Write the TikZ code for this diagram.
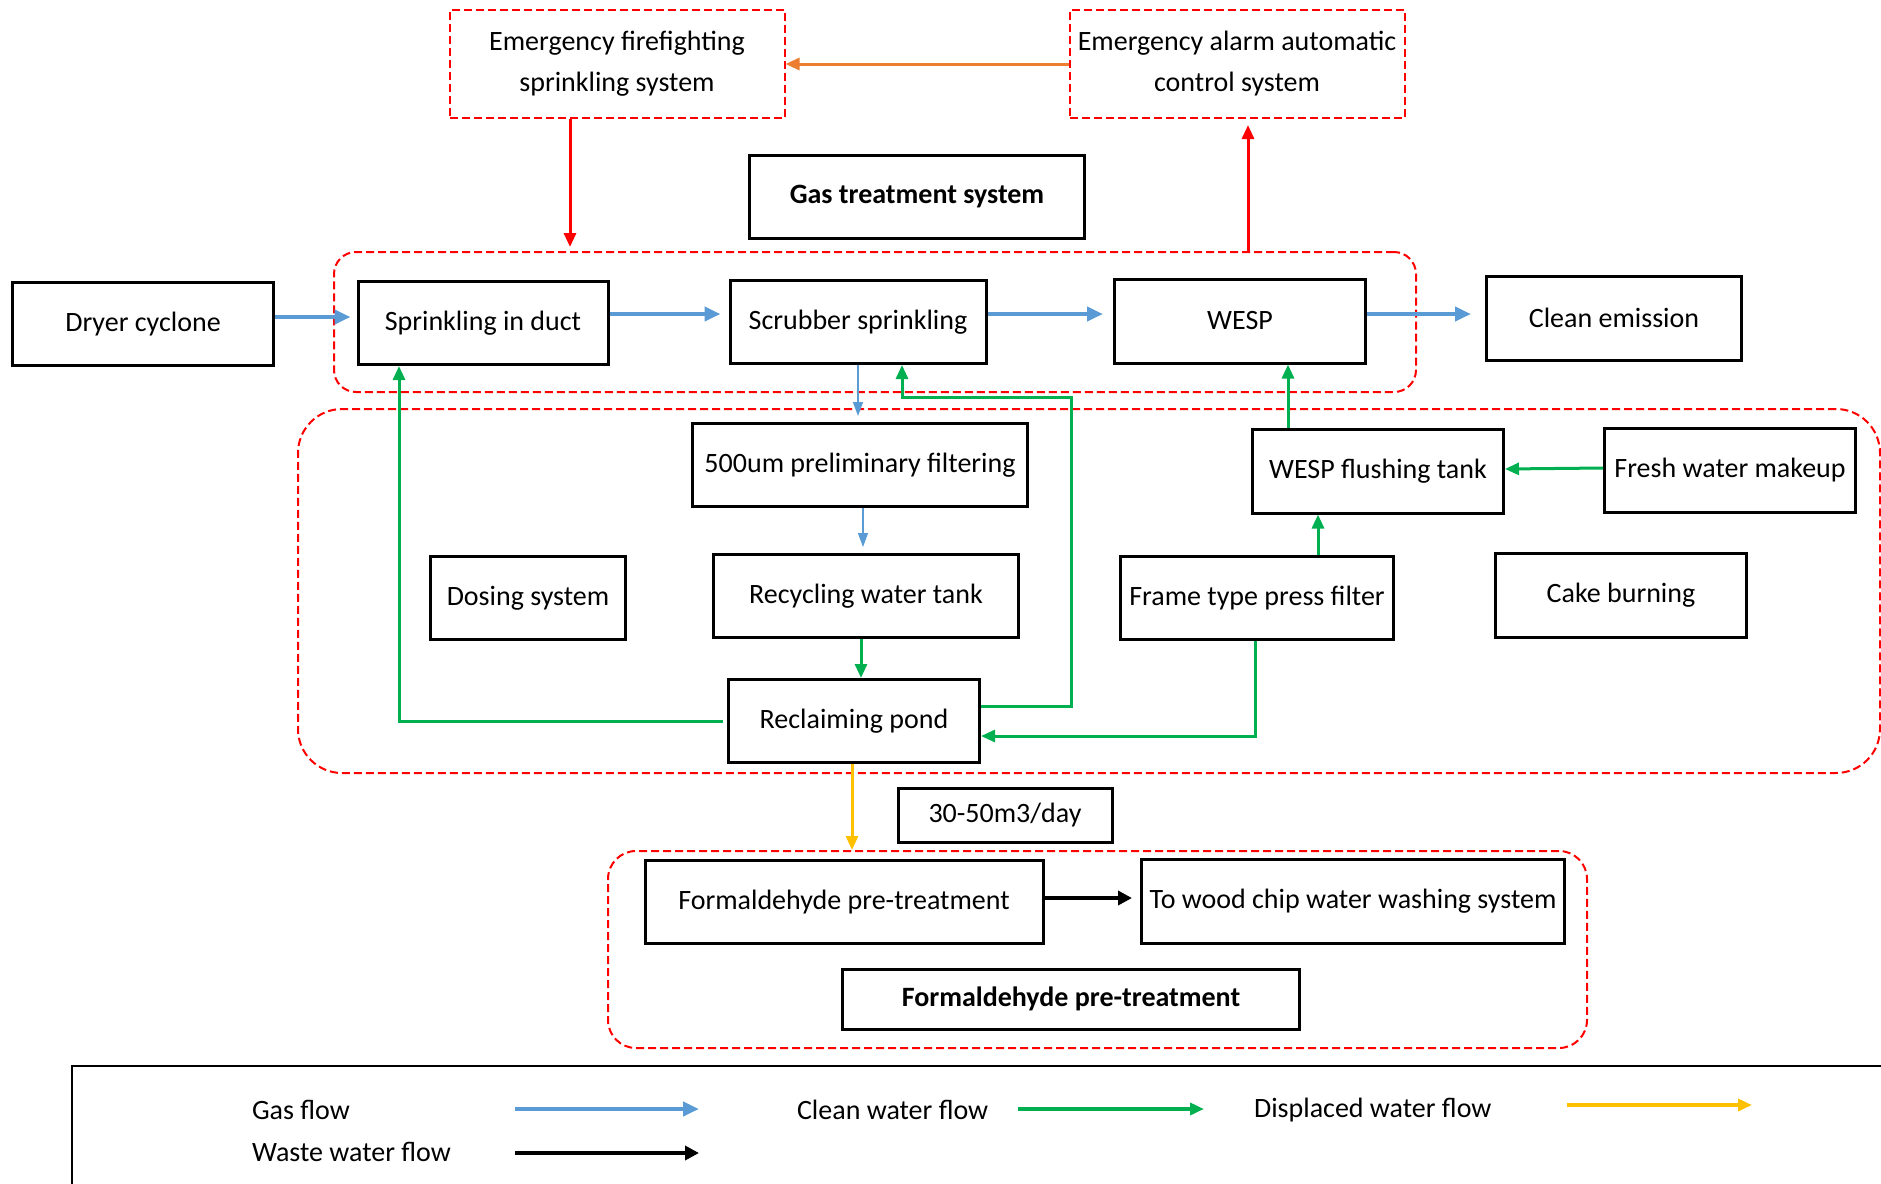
\documentclass[tikz,border=0pt]{standalone}
\usepackage{fontspec}
\setmainfont{Carlito}
\usetikzlibrary{arrows.meta}

\definecolor{gasblue}{RGB}{91,155,213}
\definecolor{cleangreen}{RGB}{0,176,80}
\definecolor{dispyellow}{RGB}{255,192,0}
\definecolor{alarmorange}{RGB}{237,125,49}

\tikzset{
  boxsize/.style 2 args={minimum width=#1*0.5pt,minimum height=#2*0.5pt},
  box/.style={draw,line width=1.5pt,inner sep=1pt,align=center},
  redbox/.style={draw=red,line width=1pt,dash pattern=on 4pt off 2pt,inner sep=1pt,align=center},
  grp/.style={draw=red,line width=1pt,dash pattern=on 4pt off 2pt,inner sep=0pt},
  gas/.style={gasblue,line width=2pt,-{Triangle[length=8pt,width=7pt]}},
  thingas/.style={gasblue,line width=0.7pt,-{Triangle[length=7pt,width=5pt]}},
  clean/.style={cleangreen,line width=1.5pt,-{Triangle[length=7pt,width=6pt]}},
  alarm/.style={red,line width=1.5pt,-{Triangle[length=7pt,width=6pt]}},
  waste/.style={black,line width=2pt,-{Triangle[length=7pt,width=7pt]}},
  disp/.style={dispyellow,line width=1.5pt,-{Triangle[length=7pt,width=6pt]}}
}

\begin{document}
\begin{tikzpicture}[x=0.5pt,y=-0.5pt,font=\fontsize{14}{20.5}\selectfont]
\useasboundingbox (0,0) rectangle (1881,1184);

\begin{scope}
\clip (0,0) rectangle (1881,1184);

% dashed groups
\node[grp,rounded corners=11pt,boxsize={1082}{140}] (gasgrp) at (875,322) {};
\node[grp,rounded corners=22pt,boxsize={1582}{364}] (watergrp) at (1089,591) {};
\node[grp,rounded corners=14pt,boxsize={979}{197}] (formgrp) at (1097.5,949.5) {};

\node[redbox,boxsize={335}{108}] (fire) at (617,64) {Emergency firefighting\\sprinkling system};
\node[redbox,boxsize={335}{108}] (alarmsys) at (1237,64) {Emergency alarm automatic\\control system};
\node[box,boxsize={335}{83}] (gastitle) at (917,197) {\bfseries Gas treatment system};

\node[box,boxsize={261}{83}] (dryer) at (143,324) {Dryer cyclone};
\node[box,boxsize={250}{83}] (duct) at (483,323) {Sprinkling in duct};
\node[box,boxsize={256}{83}] (scrub) at (858,322) {Scrubber sprinkling};
\node[box,boxsize={251}{84}] (wesp) at (1240,321) {WESP};
\node[box,boxsize={255}{84}] (clean) at (1614,318) {Clean emission};

\node[box,boxsize={335}{83}] (filt) at (860,465) {500um preliminary filtering};
\node[box,boxsize={251}{84}] (flush) at (1378,471) {WESP flushing tank};
\node[box,boxsize={251}{84}] (fresh) at (1730,470) {Fresh water makeup};
\node[box,boxsize={195}{83}] (dosing) at (528,598) {Dosing system};
\node[box,boxsize={305}{83}] (recyc) at (866,596) {Recycling water tank};
\node[box,boxsize={273}{83}] (press) at (1257,598) {Frame type press filter};
\node[box,boxsize={251}{84}] (cake) at (1621,595) {Cake burning};
\node[box,boxsize={251}{83}] (pond) at (854,721) {Reclaiming pond};

\node[box,boxsize={214}{54}] (rate) at (1005,815) {30-50m3/day};
\node[box,boxsize={398}{83}] (form) at (844,902) {Formaldehyde pre-treatment};
\node[box,boxsize={423}{84}] (wood) at (1353,901) {To wood chip water washing system};
\node[box,boxsize={457}{60}] (formtitle) at (1071,999) {\bfseries Formaldehyde pre-treatment};

% gas line
\draw[gas,shorten >=3pt] ([shift={(0,-7)}]dryer.east) -- ([shift={(0,-6)}]duct.west);
\draw[gas,shorten >=4pt] ([shift={(0,-9)}]duct.east) -- ([shift={(0,-8)}]scrub.west);
\draw[gas,shorten >=5pt] ([shift={(0,-8)}]scrub.east) -- ([shift={(0,-7)}]wesp.west);
\draw[gas,shorten >=7pt] ([shift={(0,-7)}]wesp.east) -- ([shift={(0,-4)}]clean.west);
\draw[thingas,shorten >=3pt] (scrub.south) -- (scrub.south |- filt.north);
\draw[thingas,shorten >=3pt] ([shift={(3,0)}]filt.south) -- ([shift={(3,0)}]filt.south |- recyc.north);

% water
\coordinate (loopr) at (1071,397);
\draw[clean] ([shift={(-5,0)}]recyc.south) -- ([shift={(-5,0)}]recyc.south |- pond.north);
\draw[clean] ([shift={(-4,0)}]pond.west) -| ([shift={(-84,0)}]duct.south);
\draw[clean] ([shift={(0,-15)}]pond.east) -| (loopr) -| ([shift={(44,0)}]scrub.south);
\draw[clean] ([shift={(-2,0)}]press.south) |- ([shift={(0,15)}]pond.east);
\draw[clean] ([shift={(61,0)}]press.north) -- ([shift={(61,0)}]press.north |- flush.south);
\draw[clean] ([shift={(0,-2)}]fresh.west) -- ([shift={(0,-2)}]flush.east);
\draw[clean] ([shift={(-90,0)}]flush.north) -- ([shift={(-90,0)}]flush.north |- wesp.south);

% alarm
\draw[alarm,shorten >=2pt] ([shift={(-47,0)}]fire.south) -- ([shift={(-47,0)}]fire.south |- gasgrp.north);
\draw[alarm,shorten >=3pt] ([shift={(11,0)}]alarmsys.south |- gasgrp.north) -- ([shift={(11,0)}]alarmsys.south);
\draw[alarmorange,line width=1.5pt,-{Triangle[length=7pt,width=6pt]}] (alarmsys.west) -- (fire.east);

\draw[disp] ([shift={(-2,0)}]pond.south) -- ([shift={(-2,0)}]pond.south |- formgrp.north);
\draw[waste,shorten >=4pt] ([shift={(0,-4)}]form.east) -- ([shift={(0,-3)}]wood.west);

% legend
\draw[line width=0.8pt] (72,1195) |- (1890,1066);
\node[anchor=west] (lgas) at (245,1110) {Gas flow};
\node[anchor=west] (lwaste) at (245,1152) {Waste water flow};
\node[anchor=west] (lclean) at (790,1110) {Clean water flow};
\node[anchor=west] (ldisp) at (1247,1110) {Displaced water flow};
\coordinate (lgasa) at (515,1109);
\coordinate (lgasb) at (699,1109);
\coordinate (lwastea) at (515,1153);
\coordinate (lwasteb) at (699,1153);
\coordinate (lcleana) at (1018,1109);
\coordinate (lcleanb) at (1204,1109);
\coordinate (ldispa) at (1567,1105);
\coordinate (ldispb) at (1752,1105);
\draw[gas] (lgasa) -- (lgasb);
\draw[waste] (lwastea) -- (lwasteb);
\draw[clean,line width=2pt] (lcleana) -- (lcleanb);
\draw[disp,line width=2pt] (ldispa) -- (ldispb);
\end{scope}

\end{tikzpicture}
\end{document}
